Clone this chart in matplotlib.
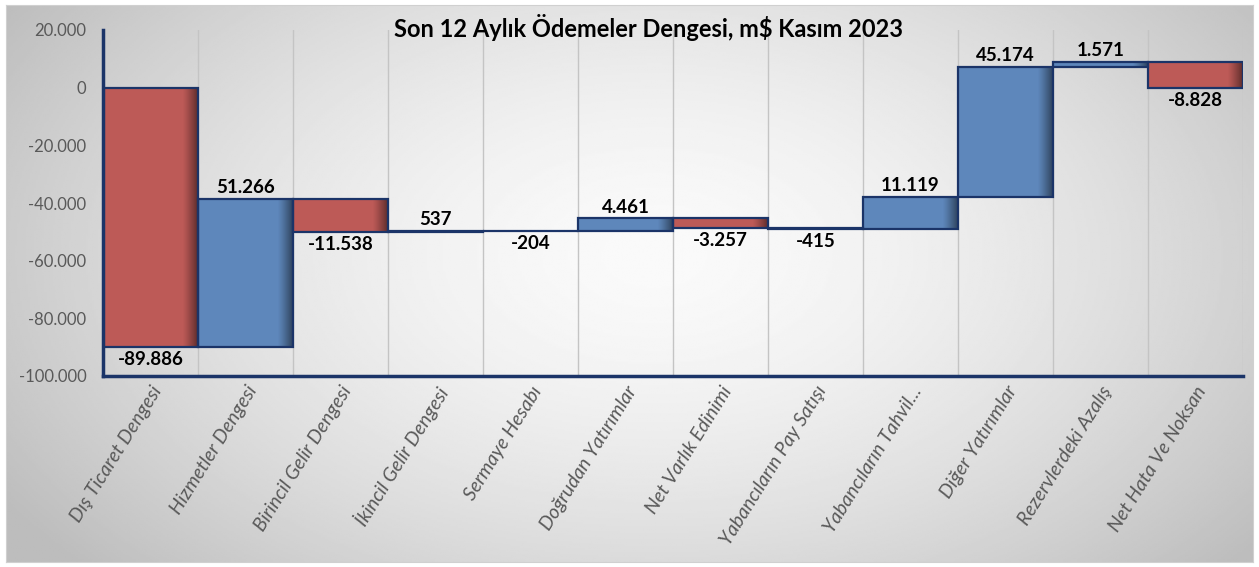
import numpy as np
import matplotlib
matplotlib.use('agg')
from matplotlib import pyplot as plt
from matplotlib.ticker import FuncFormatter, MultipleLocator

plt.rcParams['font.family'] = ['Lato', 'DejaVu Sans']

categories = ['Dış Ticaret Dengesi', 'Hizmetler Dengesi', 'Birincil Gelir Dengesi',
              'İkincil Gelir Dengesi', 'Sermaye Hesabı', 'Doğrudan Yatırımlar',
              'Net Varlık Edinimi', 'Yabancıların Pay Satışı', 'Yabancıların Tahvil...',
              'Diğer Yatırımlar', 'Rezervlerdeki Azalış', 'Net Hata Ve Noksan']
values = [-89886, 51266, -11538, 537, -204, 4461, -3257, -415, 11119, 45174, 1571, -8828]
title = 'Son 12 Aylık Ödemeler Dengesi, m$ Kasım 2023'

RED = '#BD5A57'
BLUE = '#5E87BB'
EDGE = '#1B3468'
GRID = '#C4C4C4'


def tr_num(v):
    return f'{v:,.0f}'.replace(',', '.')


fig = plt.figure(figsize=(12.59, 5.67), dpi=100)

# background panel with soft radial gradient
bg = fig.add_axes([6 / 1259, 5 / 567, 1 - 12 / 1259, 1 - 10 / 567])
yy, xx = np.mgrid[0:1:300j, 0:1:600j]
rr = np.sqrt(((xx - 0.52) / 0.55) ** 2 + ((yy - 0.45) / 0.75) ** 2)
shade_bg = np.clip(0.98 - 0.2 * rr ** 1.6, 0.74, 1.0)
bg.imshow(shade_bg, cmap='gray', vmin=0, vmax=1, extent=(0, 1, 0, 1), aspect='auto')
bg.set_xticks([])
bg.set_yticks([])
for s in bg.spines.values():
    s.set_color('#D0D0D0')
    s.set_linewidth(0.8)

ax = fig.add_axes([103 / 1259, 1 - 376 / 567, 1140 / 1259, 346 / 567])
ax.patch.set_alpha(0)

n = len(values)
x = np.arange(n)
ends = np.cumsum(values)
starts = ends - np.array(values)
lows = np.minimum(starts, ends)
highs = np.maximum(starts, ends)
colors = [BLUE if v > 0 else RED for v in values]

ax.bar(x, highs - lows, bottom=lows, width=1.0, color=colors, linewidth=0, zorder=2)

# darker band at the right side of every bar
ramp = np.linspace(0, 1, 200)
alpha = np.clip((ramp - 0.84) / 0.16, 0, 1) ** 1.2 * 0.5
shade = np.zeros((1, 200, 4))
shade[..., 3] = alpha
for i in range(n):
    ax.imshow(shade, extent=(i - 0.5, i + 0.5, lows[i], highs[i]), aspect='auto',
              interpolation='bilinear', zorder=3)

ax.bar(x, highs - lows, bottom=lows, width=1.0, fill=False, edgecolor=EDGE,
       linewidth=1.6, zorder=4)

for i, v in enumerate(values):
    if v > 0:
        ax.annotate(tr_num(v), (i, highs[i]), xytext=(0, 2), textcoords='offset points',
                    ha='center', va='bottom', fontsize=13.5, fontweight='bold', color='black')
    else:
        ax.annotate(tr_num(v), (i, lows[i]), xytext=(0, -3), textcoords='offset points',
                    ha='center', va='top', fontsize=13.5, fontweight='bold', color='black')

ax.set_xlim(-0.5, n - 0.5)
ax.set_ylim(-100000, 20000)

for k in range(1, n + 1):
    ax.axvline(k - 0.5, color=GRID, linewidth=1, zorder=1)

ax.yaxis.set_major_locator(MultipleLocator(20000))
ax.yaxis.set_major_formatter(FuncFormatter(lambda v, p: tr_num(v)))
ax.tick_params(axis='y', length=0, pad=12, labelsize=12, labelcolor='#595959')
ax.tick_params(axis='x', length=0, pad=5)
ax.set_xticks(x)
ax.set_xticklabels(categories, rotation=58, ha='right', va='top', rotation_mode='anchor',
                   fontsize=14, fontstyle='italic', color='#595959')

for side in ['top', 'right']:
    ax.spines[side].set_visible(False)
for side in ['left', 'bottom']:
    ax.spines[side].set_color(EDGE)
    ax.spines[side].set_linewidth(2.5)

fig.text(0.515, 0.951, title, ha='center', va='center', fontsize=17, fontweight='bold')

fig.savefig('out.png', dpi=100)
